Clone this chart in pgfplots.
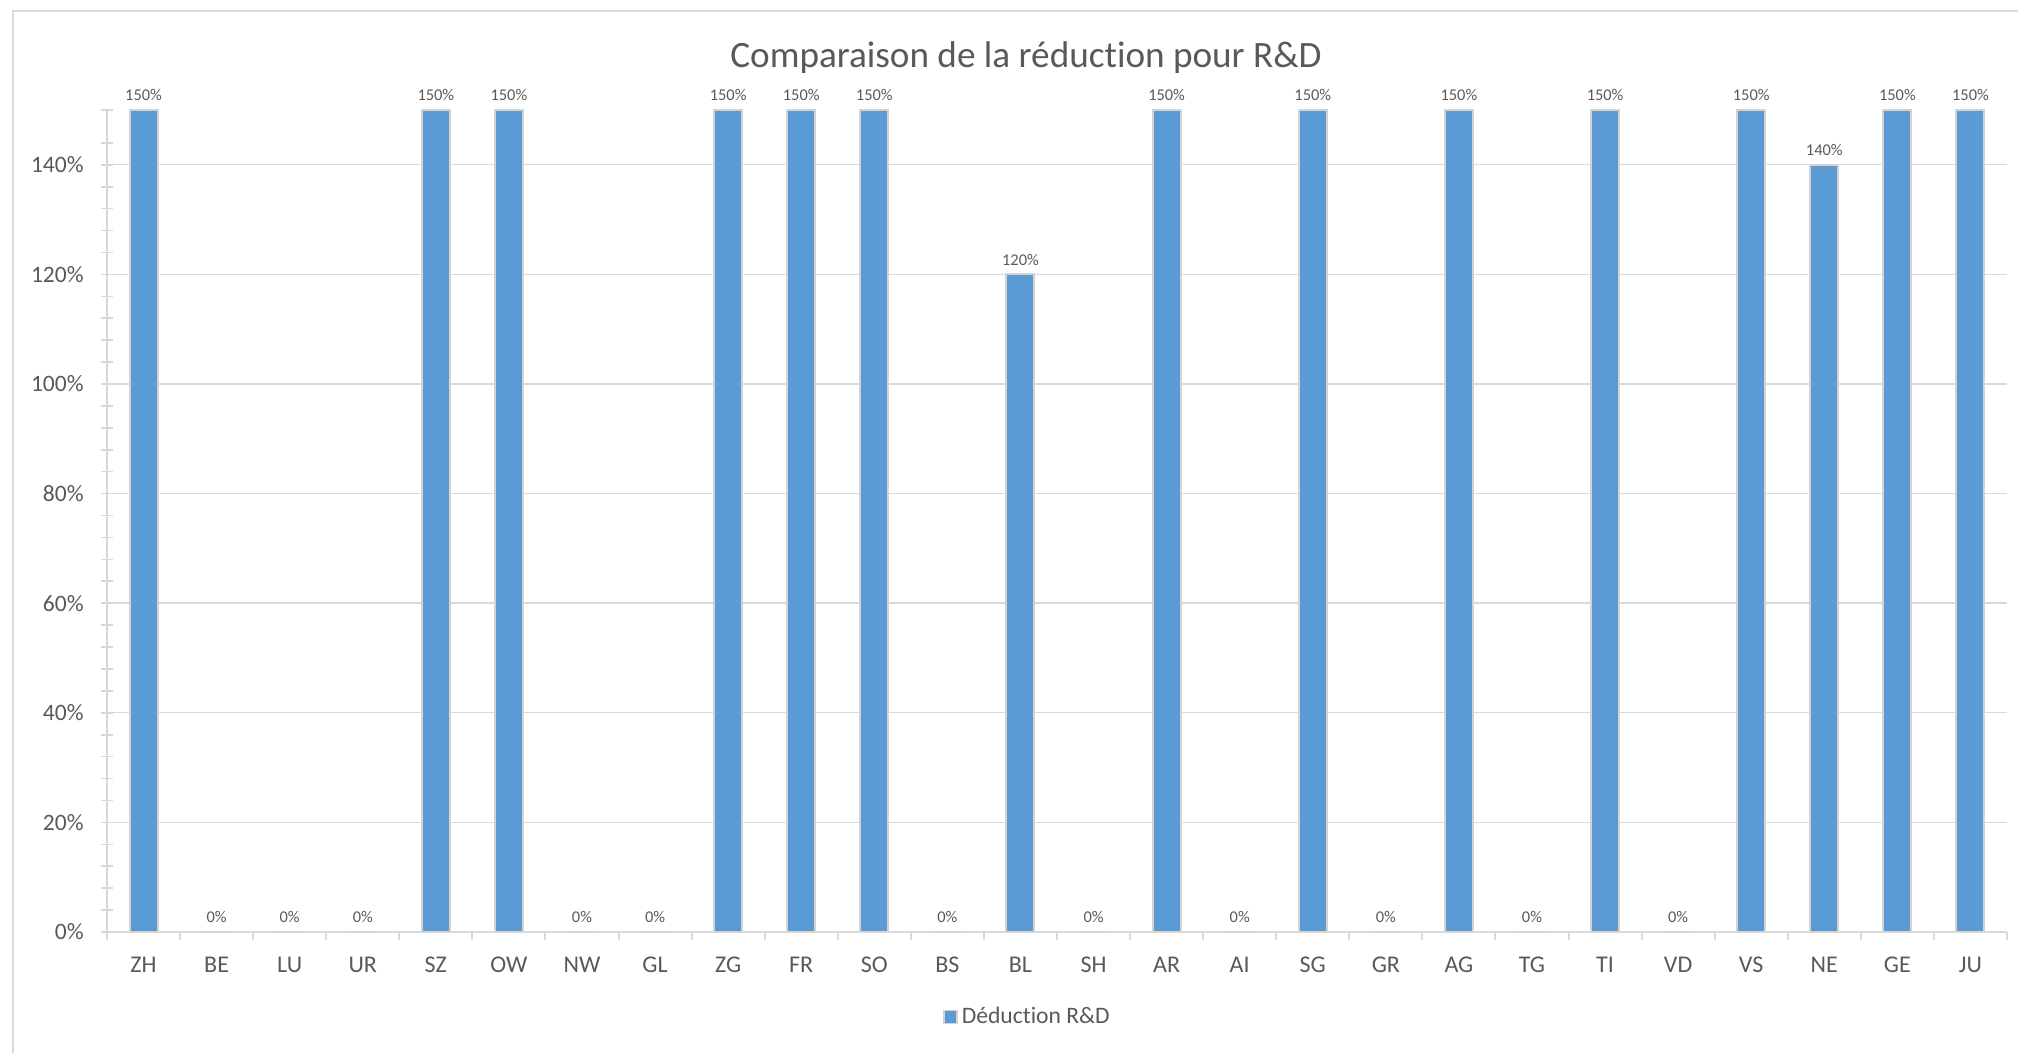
\documentclass[border=0pt]{standalone}
\usepackage{fontspec}
\setmainfont[Ligatures=NoCommon]{Carlito}
\usepackage{pgfplots}
\pgfplotsset{compat=1.18}
\definecolor{barblue}{HTML}{5B9BD5}
\definecolor{gridgray}{HTML}{D9D9D9}
\definecolor{txt}{HTML}{595959}
\definecolor{edge}{HTML}{D6D2CC}
\definecolor{ytk}{HTML}{DCD6CE}
\begin{document}
\begin{tikzpicture}
\useasboundingbox (0,0) rectangle (1009pt,526.5pt);
\draw[gridgray, line width=1pt] (6.5pt,-10pt) -- (6.5pt,521pt) -- (1020pt,521pt);
\begin{axis}[
  at={(53.5pt,60.5pt)}, anchor=south west,
  scale only axis, width=950pt, height=411pt,
  xmin=-0.5, xmax=25.5, ymin=0, ymax=150,
  axis x line*=bottom, axis y line*=left,
  x axis line style={-, draw=gridgray, line width=1pt},
  y axis line style={-, draw=ytk, line width=1pt},
  ybar, bar width=14pt,
  /pgf/number format/assume math mode=true,
  xtick={0,...,25},
  xticklabels={ZH,BE,LU,UR,SZ,OW,NW,GL,ZG,FR,SO,BS,BL,SH,AR,AI,SG,GR,AG,TG,TI,VD,VS,NE,GE,JU},
  major x tick style={draw=none},
  extra x ticks={-0.5,0.5,...,25.5},
  extra x tick labels={},
  extra x tick style={major tick length=4pt, tick align=outside, major x tick style={draw=gridgray, line width=1pt}, grid=none},
  ytick={0,20,40,60,80,100,120,140},
  yticklabels={0\%,20\%,40\%,60\%,80\%,100\%,120\%,140\%},
  minor ytick={4,8,12,16,24,28,32,36,44,48,52,56,64,68,72,76,84,88,92,96,104,108,112,116,124,128,132,136,144,150},
  tick align=center, major tick length=6pt, minor tick length=6pt,
  major y tick style={draw=ytk, line width=0.8pt},
  minor y tick style={draw=ytk, line width=0.8pt},
  ymajorgrids, major grid style={draw=gridgray, line width=0.7pt},
  xticklabel style={font=\fontsize{12}{13}\selectfont, text=txt, anchor=north, inner sep=0pt, yshift=-9.5pt},
  yticklabel style={font=\fontsize{11.75}{13}\selectfont, text=txt, anchor=east, inner sep=0pt, xshift=-8.5pt},
  title={Comparaison de la réduction pour R\&D},
  title style={font=\fontsize{18.6}{20}\selectfont, text=txt, at={(0.4837,1.0494)}, anchor=center},
  nodes near coords={\pgfmathprintnumber{\pgfplotspointmeta}\%},
  every node near coord/.append style={font=\fontsize{8.2}{9}\selectfont, text=txt, anchor=south, inner sep=0pt, yshift=4pt},
  legend style={at={(0.485,-0.1034)}, anchor=center, draw=none, fill=none, font=\fontsize{11.8}{13}\selectfont, text=txt, inner sep=0pt},
  legend image code/.code={\draw[fill=barblue, draw=edge, line width=0.8pt] (0pt,-3.25pt) rectangle (6.5pt,3.25pt);},
  legend cell align=left,
]
\addplot[fill=barblue, draw=edge, line width=1pt] coordinates {
(0,150) (1,0) (2,0) (3,0) (4,150) (5,150) (6,0) (7,0) (8,150) (9,150)
(10,150) (11,0) (12,120) (13,0) (14,150) (15,0) (16,150) (17,0) (18,150) (19,0)
(20,150) (21,0) (22,150) (23,140) (24,150) (25,150)
};
\addlegendentry{Déduction R\&D}
\end{axis}
\end{tikzpicture}
\end{document}
